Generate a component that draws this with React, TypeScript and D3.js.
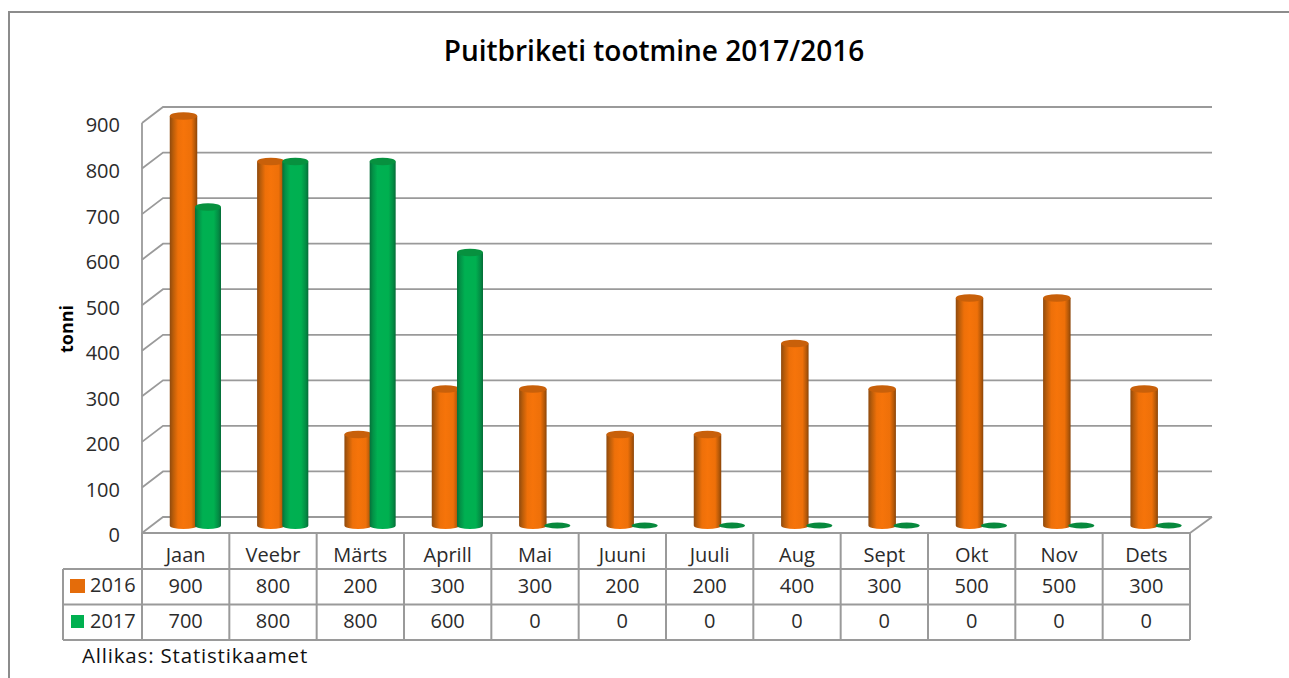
import React, { useRef, useEffect } from "react";
import * as d3 from "d3";

const title = "Puitbriketi tootmine 2017/2016";
const source = "Allikas: Statistikaamet";
const yLabel = "tonni";
const months = ["Jaan", "Veebr", "Märts", "Aprill", "Mai", "Juuni", "Juuli", "Aug", "Sept", "Okt", "Nov", "Dets"];
const values2016 = [900, 800, 200, 300, 300, 200, 200, 400, 300, 500, 500, 300];
const values2017 = [700, 800, 800, 600, 0, 0, 0, 0, 0, 0, 0, 0];
const yTicks = [0, 100, 200, 300, 400, 500, 600, 700, 800, 900];

const width = 1289;
const height = 678;
const font = "'Open Sans', sans-serif";
const textColor = "#2b2b2b";
const lineColor = "#9a9a9a";

// wall geometry of the fake 3D box
const frontLeft = 142;
const frontRight = 1190;
const frontBottom = 533;
const frontTop = 123;
const depthX = 21;
const depthY = 16;

const App = () => {
  const ref = useRef<SVGSVGElement>(null);

  useEffect(() => {
    const svg = d3.select(ref.current);
    svg.selectAll("*").remove();

    const x = d3.scaleBand<string>().domain(months).range([frontLeft, frontRight]);
    const y = d3.scaleLinear().domain([0, 900]).range([frontBottom, frontTop]);
    const barY = d3.scaleLinear().domain([0, 900]).range([525.5, 116]);

    // gradients for the cylinders
    const defs = svg.append("defs");
    const addGradient = (id: string, stops: [number, string][]) => {
      const g = defs.append("linearGradient").attr("id", id);
      stops.forEach(([o, c]) => g.append("stop").attr("offset", o).attr("stop-color", c));
    };
    addGradient("orangeBar", [[0, "#8f4a0e"], [0.12, "#b85c0a"], [0.3, "#ee7009"], [0.5, "#f6740a"], [0.78, "#ee7009"], [0.92, "#b45808"], [1, "#8a4408"]]);
    addGradient("greenBar", [[0, "#05703a"], [0.12, "#039146"], [0.3, "#00b052"], [0.72, "#00b050"], [0.9, "#038c44"], [1, "#066c38"]]);

    // outer frame
    svg.append("path")
      .attr("d", `M9,${height}V12H${width}`)
      .attr("fill", "none")
      .attr("stroke", "#8c8c8c")
      .attr("stroke-width", 2);

    svg.append("text")
      .text(title)
      .attr("x", 654)
      .attr("y", 61)
      .attr("text-anchor", "middle")
      .attr("font-family", font)
      .attr("font-size", 28)
      .attr("font-weight", 600)
      .attr("fill", "#000");

    // grid lines on walls
    const grid = svg.append("g").attr("fill", "none").attr("stroke", lineColor).attr("stroke-width", 1.8);
    yTicks.forEach((t) => {
      grid.append("path").attr("d", `M${frontLeft},${y(t)}L${frontLeft + depthX},${y(t) - depthY}H${frontRight + depthX + 1}`);
    });
    grid.append("path").attr("d", `M${frontLeft},${y(900)}V${frontBottom}`);
    grid.append("path").attr("d", `M${frontRight + depthX + 1},${y(0) - depthY}L${frontRight},${frontBottom}`);

    // y labels
    const axis = d3.axisLeft(y).tickValues(yTicks).tickSize(0).tickPadding(0);
    const axisG = svg.append("g").attr("transform", `translate(120,2.5)`).call(axis);
    axisG.select(".domain").remove();
    axisG.selectAll("text")
      .attr("font-family", font)
      .attr("font-size", 20)
      .attr("fill", textColor);

    svg.append("text")
      .text(yLabel)
      .attr("transform", "translate(73,329) rotate(-90)")
      .attr("text-anchor", "middle")
      .attr("font-family", font)
      .attr("font-size", 18)
      .attr("font-weight", 700)
      .attr("fill", "#000");

    // cylinders
    const drawBars = (vals: number[], offset: number, w: number, fillId: string, capColor: string, zeroColor: string) => {
      const g = svg.append("g");
      vals.forEach((v, i) => {
        const cx = x(months[i])! + offset;
        const rx = w / 2;
        if (v === 0) {
          g.append("ellipse")
            .attr("cx", cx).attr("cy", barY(0))
            .attr("rx", rx).attr("ry", 3)
            .attr("fill", zeroColor);
          return;
        }
        const top = barY(v);
        const base = barY(0);
        g.append("path")
          .attr("d", `M${cx - rx},${top}V${base}A${rx},3.6 0 0 0 ${cx + rx},${base}V${top}Z`)
          .attr("fill", `url(#${fillId})`);
        g.append("ellipse")
          .attr("cx", cx).attr("cy", top)
          .attr("rx", rx).attr("ry", 3.8)
          .attr("fill", capColor);
      });
    };
    drawBars(values2016, 41.5, 27.5, "orangeBar", "#c8600a", "#c8600a");
    drawBars(values2017, 66, 26, "greenBar", "#07913f", "#07893d");

    // data table
    const rows = [frontBottom, 569, 604.5, 640];
    const table = svg.append("g").attr("fill", "none").attr("stroke", lineColor).attr("stroke-width", 2);
    table.append("path").attr("d", `M${frontLeft},${rows[0]}H${frontRight}`);
    rows.slice(1).forEach((r) => table.append("path").attr("d", `M63,${r}H${frontRight}`));
    table.append("path").attr("d", `M63,${rows[1]}V${rows[3]}`);
    months.forEach((m) => table.append("path").attr("d", `M${x(m)},${rows[0]}V${rows[3]}`));
    table.append("path").attr("d", `M${frontRight},${rows[0]}V${rows[3]}`);

    const cell = (txt: string | number, cx: number, cy: number, anchor = "middle") =>
      svg.append("text")
        .text(txt)
        .attr("x", cx)
        .attr("y", cy)
        .attr("dy", "0.35em")
        .attr("text-anchor", anchor)
        .attr("font-family", font)
        .attr("font-size", 20)
        .attr("fill", textColor);

    months.forEach((m, i) => {
      const cx = x(m)! + x.bandwidth() / 2;
      cell(m, cx, 555);
      cell(values2016[i], cx, 586);
      cell(values2017[i], cx, 621);
    });

    // legend keys in the table
    svg.append("rect").attr("x", 70).attr("y", 579).attr("width", 15).attr("height", 14).attr("fill", "#e46c0a");
    svg.append("rect").attr("x", 71).attr("y", 615).attr("width", 13).attr("height", 13).attr("fill", "#00b050");
    cell("2016", 90, 585, "start");
    cell("2017", 90, 621, "start");

    svg.append("text")
      .text(source)
      .attr("x", 82)
      .attr("y", 656)
      .attr("dy", "0.35em")
      .attr("font-family", font)
      .attr("font-size", 20.5)
      .attr("letter-spacing", 0.82)
      .attr("fill", "#111");
  }, []);

  return (
    <svg
      ref={ref}
      width={width}
      height={height}
      style={{ position: "absolute", left: 0, top: 0, background: "#fff" }}
    />
  );
};

export default App;
